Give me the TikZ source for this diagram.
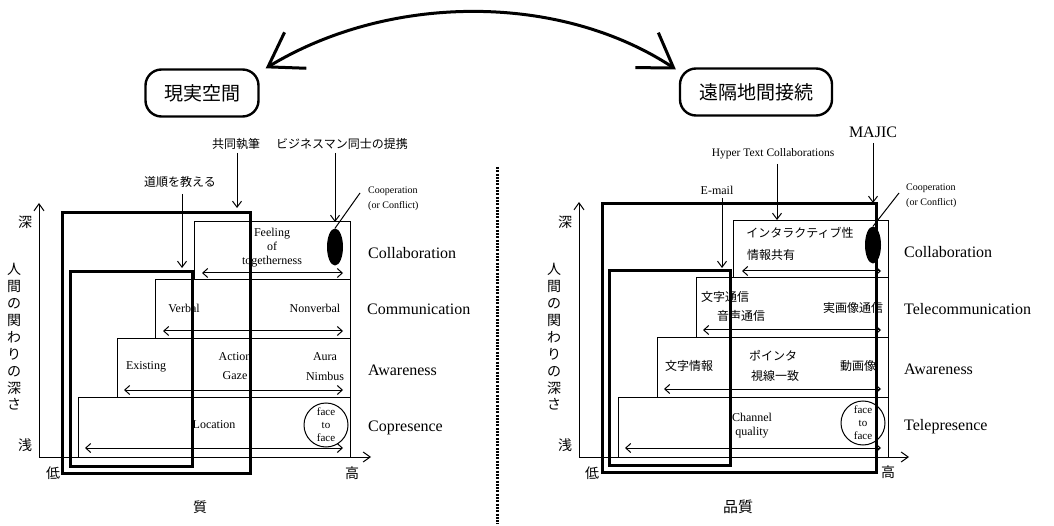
\documentclass[tikz,border=0pt]{standalone}
\usepackage{fontspec}
\setmainfont{Liberation Serif}
\newfontfamily\cjk{Noto Sans CJK JP}
\usetikzlibrary{arrows.meta,shapes.geometric,calc}
\tikzset{
  layerbox/.style={draw, line width=1pt},
  thickbox/.style={draw, line width=3pt},
  rowarrow/.style={line width=1pt, {Straight Barb[length=5pt,width=9pt]}-{Straight Barb[length=5pt,width=9pt]}},
  pointer/.style={line width=1pt, -{Straight Barb[length=6pt,width=9pt]}},
  axisline/.style={line width=1pt, -{Straight Barb[length=7pt,width=10pt]}},
  en/.style={font=\fontsize{12}{14}\selectfont, inner sep=0, align=center},
  small/.style={font=\fontsize{10}{15}\selectfont, inner sep=0, align=left, anchor=west},
  jp/.style={font=\cjk\fontsize{12}{14}\selectfont, inner sep=0},
  axislbl/.style={font=\cjk\fontsize{14}{16}\selectfont, inner sep=0},
  vlbl/.style={font=\cjk\fontsize{14}{16.9}\selectfont, inner sep=0, align=center},
  layer/.style={font=\fontsize{16}{18}\selectfont, anchor=west, inner sep=0},
  f2f/.style={circle, draw, line width=1pt, minimum size=44pt, inner sep=0, align=center, font=\fontsize{11}{13}\selectfont},
  blob/.style={ellipse, fill=black, minimum width=16pt, minimum height=37pt, inner sep=0},
  space/.style={draw, line width=2.4pt, rounded corners=16pt, inner sep=0, font=\cjk\fontsize{19}{21}\selectfont},
  bigarrow/.style={line width=3pt, {Straight Barb[length=32pt,width=42pt]}-{Straight Barb[length=32pt,width=42pt]}},
  sep/.style={line width=3pt, dash pattern=on 2pt off 1.3pt}
}
\begin{document}
\begin{tikzpicture}[x=1pt,y=-1pt]
\useasboundingbox (0,0) rectangle (1054,526);
\fill[white] (0,0) rectangle (1054,526);

% title boxes and big arrow
\node[space, minimum width=113pt, minimum height=47pt] (real) at (202,93) {現実空間};
\node[space, minimum width=152pt, minimum height=47pt] (remote) at (756,92) {遠隔地間接続};
\draw[bigarrow] ($(real.north east)+(6,0)$) .. controls (390,-7) and (560,-7) .. ($(remote.north west)+(-3,2)$);

% separator
\coordinate (septop) at (497,167);
\coordinate (sepbot) at (497,524);
\draw[sep] (septop) -- (sepbot);

% ================= LEFT =================
\draw[layerbox] (194,222) rectangle (350,280);
\draw[layerbox] (155,280) rectangle (350,338);
\draw[layerbox] (117,338) rectangle (350,397);
\draw[layerbox] (78,397) rectangle (350,457);

\coordinate (lO) at (39,457);
\coordinate (lY) at (39,203);
\coordinate (lX) at (371,457);
\draw[axisline] (lO) -- (lY);
\draw[axisline] (lO) -- (lX);

\node[axislbl] (ldeep) at (25,222) {深};
\node[axislbl] (lshallow) at (25,445) {浅};
\node[axislbl] (llow) at (53,473) {低};
\node[axislbl] (lhigh) at (352,473) {高};
\node[axislbl] (lq) at (200,507) {質};
\node[vlbl] (lvert) at (14,337) {人\\間\\の\\関\\わ\\り\\の\\深\\さ};

\node[en] (feel) at (272,248) {Feeling\\of\\togetherness};
\node[en] (verbal) at (184,308) {Verbal};
\node[en] (nonverbal) at (315,308) {Nonverbal};
\node[en] (existing) at (146,367) {Existing};
\node[en] (action) at (235,357) {Action};
\node[en] (gaze) at (235,376) {Gaze};
\node[en] (aura) at (325,357) {Aura};
\node[en] (nimbus) at (325,376) {Nimbus};
\node[en] (location) at (214,425) {Location};
\node[f2f] (lf2f) at (326,425) {face\\to\\face};
\node[blob] (lblob) at (335,247) {};

\draw[rowarrow] (202,273) -- (343,273);
\draw[rowarrow] (163,331) -- (343,331);
\draw[rowarrow] (124,390) -- (343,390);
\draw[rowarrow] (85,448) -- (343,448);

\node[layer] (lcol) at (368,253) {Collaboration};
\node[layer] (lcom) at (367,309) {Communication};
\node[layer] (lawa) at (368,370) {Awareness};
\node[layer] (lcop) at (368,428) {Copresence};

\node[small] (lcoop) at (368,199) {Cooperation\\(or Conflict)};
\draw[line width=1pt] (360,193) -- (lblob.north);

\node[jp] (route) at (180,182) {道順を教える};
\node[jp] (cowrite) at (236,144) {共同執筆};
\node[jp] (biz) at (342,144) {ビジネスマン同士の提携};
\coordinate (routeT) at (182,268);
\coordinate (cowriteT) at (237,208);
\coordinate (bizT) at (335,222);
\draw[pointer] (182,194) -- (routeT);
\draw[pointer] (237,153) -- (cowriteT);
\draw[pointer] (335,153) -- (bizT);

\draw[thickbox] (62,213) rectangle (250,473);
\draw[thickbox] (70,272) rectangle (192,466);

% ================= RIGHT =================
\draw[layerbox] (733,221) rectangle (888,278);
\draw[layerbox] (696,278) rectangle (888,337);
\draw[layerbox] (657,337) rectangle (888,397);
\draw[layerbox] (618,397) rectangle (888,457);

\coordinate (rO) at (579,457);
\coordinate (rY) at (579,202);
\coordinate (rX) at (909,457);
\draw[axisline] (rO) -- (rY);
\draw[axisline] (rO) -- (rX);

\node[axislbl] (rdeep) at (565,222) {深};
\node[axislbl] (rshallow) at (565,445) {浅};
\node[axislbl] (rlow) at (592,473) {低};
\node[axislbl] (rhigh) at (888,472) {高};
\node[axislbl, font=\cjk\fontsize{15}{17}\selectfont] (rq) at (738,507) {品質};
\node[vlbl] (rvert) at (554,337) {人\\間\\の\\関\\わ\\り\\の\\深\\さ};

\node[jp] (inter) at (800,233) {インタラクティブ性};
\node[jp] (share) at (771,255) {情報共有};
\node[jp] (textcom) at (725,297) {文字通信};
\node[jp] (voice) at (741,316) {音声通信};
\node[jp] (video) at (853,308) {実画像通信};
\node[jp] (textinfo) at (689,366) {文字情報};
\node[jp] (pointer) at (773,356) {ポインタ};
\node[jp] (eyes) at (775,376) {視線一致};
\node[jp] (movie) at (858,366) {動画像};
\node[en] (channel) at (752,426) {Channel\\quality};
\node[f2f] (rf2f) at (863,423) {face\\to\\face};
\node[blob] (rblob) at (873,245) {};

\draw[rowarrow] (742,271) -- (881,271);
\draw[rowarrow] (703,330) -- (881,330);
\draw[rowarrow] (664,389) -- (881,389);
\draw[rowarrow] (625,448) -- (881,448);

\node[layer] (rcol) at (904,252) {Collaboration};
\node[layer] (rcom) at (904,309) {Telecommunication};
\node[layer] (rawa) at (904,369) {Awareness};
\node[layer] (rtel) at (904,427) {Telepresence};

\node[small] (rcoop) at (906,196) {Cooperation\\(or Conflict)};
\draw[line width=1pt] (899,193) -- (rblob.north);

\node[en, font=\fontsize{16}{18}\selectfont] (majic) at (873,132) {MAJIC};
\node[en, font=\fontsize{11.5}{14}\selectfont] (hyper) at (773,154) {Hyper Text Collaborations};
\node[en] (email) at (717,190) {E-mail};
\coordinate (majicT) at (873,203);
\coordinate (hyperT) at (777,220);
\coordinate (emailT) at (722,268);
\draw[pointer] (873,143) -- (majicT);
\draw[pointer] (777,164) -- (hyperT);
\draw[pointer] (722,198) -- (emailT);

\draw[thickbox] (602,204) rectangle (876,472);
\draw[thickbox] (609,271) rectangle (730,465);
\end{tikzpicture}
\end{document}
